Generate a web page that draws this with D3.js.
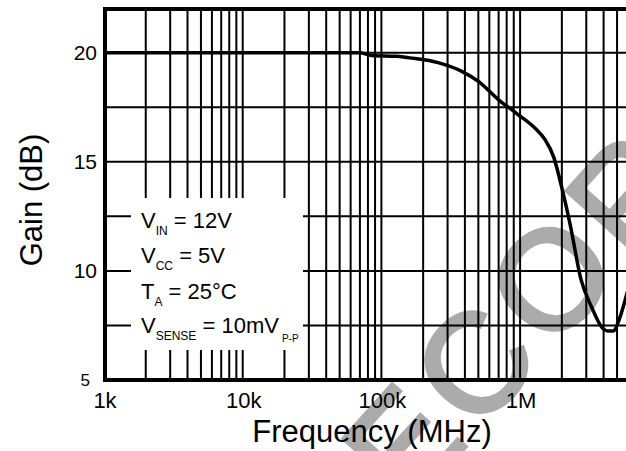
<!DOCTYPE html>
<html><head><meta charset="utf-8">
<script src="https://cdn.jsdelivr.net/npm/d3@7"></script>
<style>body{margin:0;background:#fff}svg{display:block}</style>
</head><body>
<svg id="c" width="626" height="451"></svg>
<script>
// ---- data ----
const freqHz = [1e3, 1e4, 5e4, 7e4, 8.5e4, 1.3e5, 1.6e5, 2.6e5, 3.8e5, 5e5, 7e5, 9.5e5, 1.3e6, 1.5e6, 1.75e6, 2.0e6, 2.3e6, 2.75e6, 3.3e6, 3.9e6, 4.3e6, 4.7e6, 5.2e6, 5.8e6, 6.5e6];
const gainDb = [20, 20, 20, 20, 19.87, 19.83, 19.76, 19.53, 19.14, 18.68, 17.84, 17.2, 16.5, 16.05, 15.2, 13.8, 12.1, 9.6, 8.3, 7.4, 7.25, 7.25, 7.8, 8.8, 10];
const xTickValues = [1e3, 1e4, 1e5, 1e6];
const xTickLabels = ["1k", "10k", "100k", "1M"];
const yTickValues = [5, 10, 15, 20];
const yTickLabels = ["5", "10", "15", "20"];
const yGridValues = [7.5, 10, 12.5, 15, 17.5, 20];
const decades = [1e3, 1e4, 1e5, 1e6];
const legendMain = ["V", "V", "T", "V"];
const legendSub = ["IN", "CC", "A", "SENSE"];
const legendRest = [" = 12V", " = 5V", " = 25°C", " = 10mV"];
const legendSub2 = ["", "", "", "P-P"];
const xTitle = "Frequency (MHz)";
const yTitle = "Gain (dB)";
const watermark = "RECORD";

// ---- layout ----
const FONT = "'Liberation Sans', Arial, Helvetica, sans-serif";
const svg = d3.select("#c");
const x = d3.scaleLog().domain([1e3, 1e7]).range([104, 104 + 4 * 138.7]);
const y = d3.scaleLinear().domain([5, 22]).range([380, 9]);

svg.append("rect").attr("width", 626).attr("height", 451).attr("fill", "#fff");

// watermark
svg.append("text")
  .attr("transform", "translate(333,594) rotate(-48)")
  .attr("font-family", FONT).attr("font-size", 140)
  .attr("letter-spacing", 10)
  .attr("fill", "#ababab").attr("stroke", "#ababab").attr("stroke-width", 4)
  .text(watermark);

// grid
const vGrid = [];
decades.forEach(d => { for (let m = 2; m <= 10; m++) vGrid.push(d * m); });
const grid = svg.append("g").attr("stroke", "#000").attr("stroke-width", 2);
grid.selectAll("line.v").data(vGrid).join("line").attr("class", "v")
  .attr("x1", d => x(d)).attr("x2", d => x(d))
  .attr("y1", y(22)).attr("y2", y(5));
grid.selectAll("line.h").data(yGridValues).join("line").attr("class", "h")
  .attr("x1", x(1e3)).attr("x2", x(1e7))
  .attr("y1", d => y(d)).attr("y2", d => y(d));

// legend box
svg.append("rect").attr("x", 131).attr("y", 198).attr("width", 172).attr("height", 152).attr("fill", "#fff");
const lg = svg.append("g").attr("font-family", FONT).attr("fill", "#000");
const rowY = [228, 263, 299, 333];
legendMain.forEach((m, i) => {
  const t = lg.append("text").attr("x", 141).attr("y", rowY[i]).attr("font-size", 22);
  t.append("tspan").text(m);
  t.append("tspan").attr("font-size", 12).attr("dy", 7).text(legendSub[i]);
  t.append("tspan").attr("dy", -7).text(legendRest[i]);
  if (legendSub2[i]) t.append("tspan").attr("font-size", 10).attr("dy", 9).attr("dx", 3).text(legendSub2[i]);
});

// curve
const pts = freqHz.map((f, i) => [f, gainDb[i]]);
svg.append("path").datum(pts)
  .attr("fill", "none").attr("stroke", "#000").attr("stroke-width", 3.5)
  .attr("stroke-linejoin", "round")
  .attr("d", d3.line().x(d => x(d[0])).y(d => y(d[1])).curve(d3.curveMonotoneX));

// frame
const fr = svg.append("g").attr("stroke", "#000");
fr.append("line").attr("x1", x(1e3)).attr("x2", x(1e7)).attr("y1", y(22)).attr("y2", y(22)).attr("stroke-width", 4);
fr.append("line").attr("x1", x(1e3) + 1).attr("x2", x(1e3) + 1).attr("y1", y(22) - 2).attr("y2", y(5) + 2).attr("stroke-width", 4);
fr.append("line").attr("x1", x(1e3)).attr("x2", x(1e7)).attr("y1", y(5)).attr("y2", y(5)).attr("stroke-width", 4);

// tick labels
svg.append("g").attr("font-family", FONT).attr("font-size", 22).attr("text-anchor", "middle")
  .selectAll("text").data(xTickValues).join("text")
  .attr("x", d => x(d) + 1).attr("y", 408).text((d, i) => xTickLabels[i]);
svg.append("g").attr("font-family", FONT).attr("font-size", 21).attr("text-anchor", "end")
  .selectAll("text").data(yTickValues).join("text")
  .attr("x", d => d === 5 ? 90 : 97).attr("y", d => y(d)).attr("dy", "0.36em")
  .attr("font-size", d => d === 5 ? 17 : 21)
  .text((d, i) => yTickLabels[i]);

// titles
svg.append("text").attr("x", 372).attr("y", 442).attr("text-anchor", "middle")
  .attr("font-family", FONT).attr("font-size", 31).text(xTitle);
svg.append("text").attr("transform", "translate(42,200) rotate(-90)").attr("text-anchor", "middle")
  .attr("font-family", FONT).attr("font-size", 31).text(yTitle);
</script>
</body></html>
